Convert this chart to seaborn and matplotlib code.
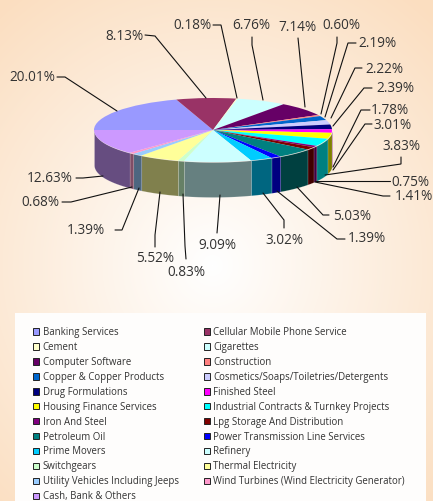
import matplotlib
matplotlib.use('Agg')
import matplotlib.pyplot as plt
from matplotlib.patches import Patch, Rectangle
import numpy as np
import seaborn as sns

sectors = ["Banking Services", "Cellular Mobile Phone Service", "Cement", "Cigarettes",
           "Computer Software", "Construction", "Copper & Copper Products",
           "Cosmetics/Soaps/Toiletries/Detergents", "Drug Formulations", "Finished Steel",
           "Housing Finance Services", "Industrial Contracts & Turnkey Projects",
           "Iron And Steel", "Lpg Storage And Distribution", "Petroleum Oil",
           "Power Transmission Line Services", "Prime Movers", "Refinery", "Switchgears",
           "Thermal Electricity", "Utility Vehicles Including Jeeps",
           "Wind Turbines (Wind Electricity Generator)", "Cash, Bank & Others"]
weights = [20.01, 8.13, 0.18, 6.76, 7.14, 0.60, 2.19, 2.22, 2.39, 1.78, 3.01, 3.83,
           0.75, 1.41, 5.03, 1.39, 3.02, 9.09, 0.83, 5.52, 1.39, 0.68, 12.63]
colors = ["#9999FF", "#993366", "#FFFFCC", "#CCFFFF", "#660066", "#FF8080", "#0066CC",
          "#CCCCFF", "#000080", "#FF00FF", "#FFFF00", "#00FFFF", "#800080", "#800000",
          "#008080", "#0000FF", "#00CCFF", "#CCFFFF", "#CCFFCC", "#FFFF99", "#99CCFF",
          "#FF99CC", "#CC99FF"]

# label anchor and leader elbow, in pixels of the 433x501 picture
label_xy = [(32, 77), (124, 36), (192, 25), (251, 25), (297, 27), (341, 25), (377, 43),
            (384, 69), (395, 88), (390, 110), (393, 125), (401, 146), (410, 182),
            (414, 197), (352, 216), (367, 239), (284, 241), (217, 245), (186, 272),
            (155, 259), (86, 231), (40, 203), (50, 179)]
leaders = [[(57, 77), (65, 77), (117, 111)], [(145, 35), (155, 36), (206, 98)],
           [(213, 25), (221, 25), (237, 98)], [(252, 37), (252, 45), (263, 100)],
           [(298, 38), (298, 38), (305, 107)], [(337, 37), (337, 43), (321, 114)],
           [(356, 43), (348, 43), (325, 117)], [(362, 68), (355, 68), (331, 118)],
           [(372, 88), (364, 88), (333, 126)], [(370, 110), (361, 110), (333, 167)],
           [(372, 124), (365, 124), (333, 170)], [(401, 157), (401, 164), (325, 175)],
           [(390, 181), (380, 181), (315, 181)], [(390, 196), (383, 196), (315, 182)],
           [(329, 215), (323, 215), (297, 187)], [(345, 239), (337, 239), (277, 191)],
           [(284, 228), (284, 220), (263, 193)], [(217, 233), (218, 221), (220, 195)],
           [(186, 259), (185, 246), (183, 194)], [(155, 247), (155, 235), (160, 192)],
           [(115, 230), (122, 230), (139, 188)], [(62, 202), (71, 202), (132, 187)],
           [(76, 178), (83, 178), (103, 176)]]

sns.set_theme(style="white")
plt.rcParams['font.family'] = ['Open Sans', 'DejaVu Sans']
palette = sns.color_palette(colors)

W, H = 433, 501
CX, CY, RX, RY, DEPTH = 213, 130, 119, 32, 35

fig = plt.figure(figsize=(W / 100, H / 100), dpi=100)

# peach page background, white in the middle
bg = fig.add_axes([0, 0, 1, 1], zorder=0)
yy, xx = np.mgrid[0:H, 0:W]
t = np.clip(np.hypot((xx - 212) / 330, (yy - 265) / 340), 0, 1)
white = np.array([1.0, 1.0, 1.0])
peach = np.array([251, 222, 192]) / 255
bg.imshow(white + (peach - white) * t[..., None], extent=(0, W, H, 0), aspect='auto')
bg.axis('off')

# the pie itself, squashed by its axes into an ellipse
ax = fig.add_axes([0, 0, 1, 1], zorder=1)
ax.patch.set_alpha(0)
wedges, _ = ax.pie(weights, colors=palette, startangle=180, counterclock=False,
                   radius=1, wedgeprops={'linewidth': 0})
ax.set_aspect('auto')
ax.set_xlim(-CX / RX, (W - CX) / RX)
ax.set_ylim((CY - H) / RY, CY / RY)

# side wall of the front half, same slices at half brightness
shares = np.array(weights) / sum(weights) * 360
ends = 180 - np.cumsum(shares)
starts = ends + shares
for a0, a1, c in zip(starts, ends, palette):
    th = np.radians(np.linspace(a0, a1, 40))
    th = th[np.sin(th) <= 0]
    if len(th) < 2:
        continue
    dark = tuple(v * 0.5 for v in c)
    ax.fill_between(np.cos(th), np.sin(th), np.sin(th) - DEPTH / RY, color=dark,
                    linewidth=0.4, edgecolor=(1, 1, 1, 0.25), zorder=0.5)

# leader lines, percent labels, legend
top = fig.add_axes([0, 0, 1, 1], zorder=2)
top.patch.set_alpha(0)
top.set_xlim(0, W)
top.set_ylim(H, 0)
top.axis('off')
for pts, (lx, ly), w in zip(leaders, label_xy, weights):
    top.plot([p[0] for p in pts], [p[1] for p in pts], color='#111111', lw=0.8,
             solid_joinstyle='miter')
    top.text(lx, ly, f"{w:.2f}%", ha='center', va='center', fontsize=9.8, color='#333333')

top.add_patch(Rectangle((15, 313), 411, 188, facecolor='#FEFDFC', edgecolor='none', zorder=0))

handles = [Patch(facecolor=c, edgecolor='#222222', linewidth=0.7) for c in palette]
order = list(range(0, 23, 2)) + list(range(1, 23, 2))
leg = top.legend([handles[i] for i in order], [sectors[i] for i in order], ncol=2,
                 loc='upper left', bbox_to_anchor=(33, 327), bbox_transform=top.transData,
                 frameon=False, fontsize=6.9, handlelength=0.65, handleheight=0.65,
                 handletextpad=0.35, labelspacing=0.41, columnspacing=2.6, borderpad=0,
                 borderaxespad=0, labelcolor='#333333')

fig.savefig('out.png', dpi=100)
plt.close(fig)
